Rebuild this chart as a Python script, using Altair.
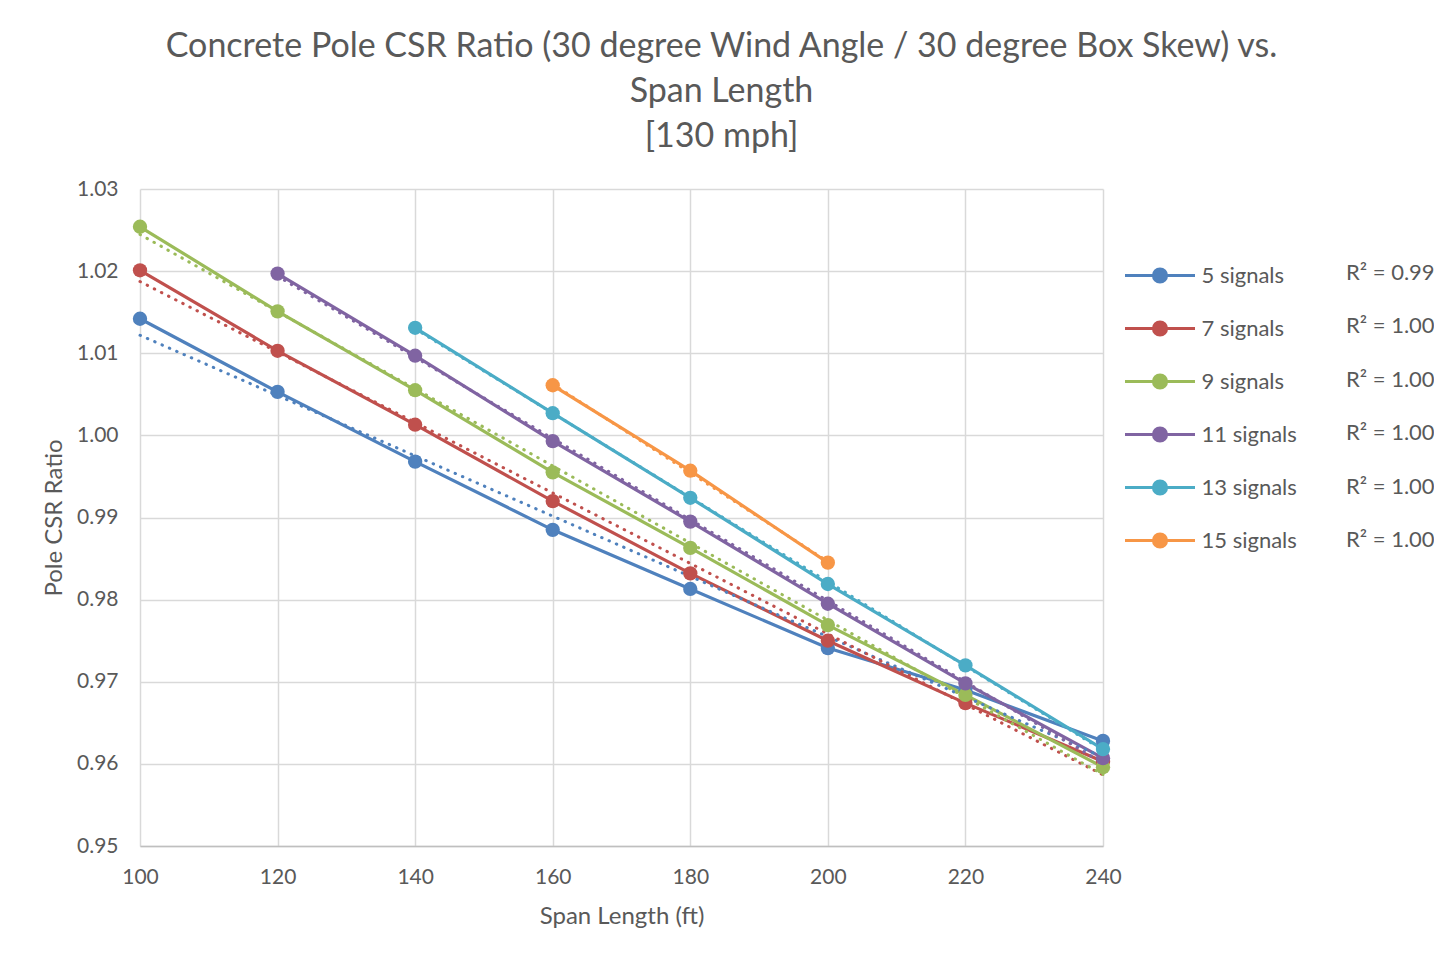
import altair as alt
import pandas as pd

# ---------------- data ----------------
spans = [100, 120, 140, 160, 180, 200, 220, 240]
series_names = ["5 signals", "7 signals", "9 signals", "11 signals", "13 signals", "15 signals"]
sig5 = [1.0142, 1.0053, 0.9968, 0.9885, 0.9813, 0.9741, 0.9690, 0.9628]
sig7 = [1.0201, 1.0103, 1.0013, 0.9920, 0.9832, 0.9750, 0.9674, 0.9603]
sig9 = [1.0254, 1.0151, 1.0055, 0.9955, 0.9863, 0.9769, 0.9684, 0.9596]
sig11 = [None, 1.0197, 1.0097, 0.9993, 0.9895, 0.9795, 0.9698, 0.9607]
sig13 = [None, None, 1.0131, 1.0027, 0.9924, 0.9819, 0.9720, 0.9618]
sig15 = [None, None, None, 1.0061, 0.9957, 0.9845, None, None]
r2_labels = ["R² = 0.99", "R² = 1.00", "R² = 1.00", "R² = 1.00", "R² = 1.00", "R² = 1.00"]
y_ticks = [0.95, 0.96, 0.97, 0.98, 0.99, 1.00, 1.01, 1.02, 1.03]
colors = ["#4F81BD", "#C0504D", "#9BBB59", "#8064A2", "#4BACC6", "#F79646"]

rows = []
for i, (name, vals) in enumerate(zip(series_names, [sig5, sig7, sig9, sig11, sig13, sig15])):
    for s, v in zip(spans, vals):
        if v is not None:
            rows.append({"series": name, "k": i, "span": s, "ratio": v})
df = pd.DataFrame(rows)
r2df = pd.DataFrame({"series": series_names, "r2": r2_labels})

FONT = "Lato"
GREY = "#595959"

# legend symbol: line with a filled-looking dot (concentric rings)
def ring(r):
    return f"M{r},0A{r},{r},0,1,1,{-r},0A{r},{r},0,1,1,{r},0"
legend_path = "M-2,0L2,0" + ring(0.37) + ring(0.26) + ring(0.15) + ring(0.05)

cscale = alt.Scale(domain=series_names, range=colors)

x = alt.X("span:Q",
          scale=alt.Scale(domain=[100, 240], nice=False, zero=False),
          axis=alt.Axis(values=spans, title="Span Length (ft)", grid=True,
                        labelPadding=20, titlePadding=17, labelFlush=False,
                        domainColor="#BFBFBF", domainWidth=1.5))
y = alt.Y("ratio:Q",
          scale=alt.Scale(domain=[0.95, 1.03], nice=False, zero=False),
          axis=alt.Axis(values=y_ticks, format=".2f", title="Pole CSR Ratio", grid=True,
                        labelPadding=22, titlePadding=10, domain=False, labelFlush=False))

lines = alt.Chart(df).mark_line(strokeWidth=3.2).encode(
    x=x, y=y,
    color=alt.Color("series:N", scale=cscale, sort=series_names,
                    legend=alt.Legend(title=None, orient="none", legendX=1000.5, legendY=67,
                                      symbolType=legend_path, symbolSize=1225,
                                      symbolStrokeWidth=3.2, symbolFillColor="transparent",
                                      labelOffset=22, rowPadding=20,
                                      labelFont=FONT, labelFontSize=22, labelColor=GREY,
                                      padding=0)),
    detail="series:N",
)

trend = alt.Chart(df).transform_regression(
    "span", "ratio", groupby=["series"]
).mark_line(strokeWidth=3, strokeDash=[0.5, 7.5], strokeCap="round").encode(
    x="span:Q", y="ratio:Q",
    color=alt.Color("series:N", scale=cscale, legend=None),
)

points = alt.Chart(df).mark_circle(size=205, opacity=1).encode(
    x="span:Q", y="ratio:Q",
    color=alt.Color("series:N", scale=cscale, legend=None),
)

main = alt.layer(lines, trend, points)

r2text = alt.Chart(r2df).mark_text(align="left", baseline="middle", font=FONT,
                                   fontSize=22, color=GREY).encode(
    x=alt.value(1206),
    y=alt.Y("series:N", scale=alt.Scale(type="point", domain=series_names,
                                        range=[84, 351], padding=0), axis=None),
    text="r2:N",
)

chart = alt.layer(main, r2text).resolve_scale(y="independent").properties(
    width=963, height=657,
    autosize=alt.AutoSizeParams(type="none"),
    padding={"left": 132, "top": 181, "right": 331, "bottom": 100},
    title=alt.TitleParams(
        text=["Concrete Pole CSR Ratio (30 degree Wind Angle / 30 degree Box Skew) vs.",
              "Span Length", "[130 mph]"],
        font=FONT, fontSize=34, fontWeight="normal", color=GREY,
        anchor="middle", dx=100, offset=24, lineHeight=45),
).configure_axis(
    labelFont=FONT, labelFontSize=21, labelColor=GREY,
    titleFont=FONT, titleFontSize=24, titleColor=GREY, titleFontWeight="normal",
    gridColor="#D9D9D9", gridWidth=1.5, ticks=False,
).configure_view(stroke=None)

chart.save("out.html", embed_options={"renderer": "svg", "actions": False})
